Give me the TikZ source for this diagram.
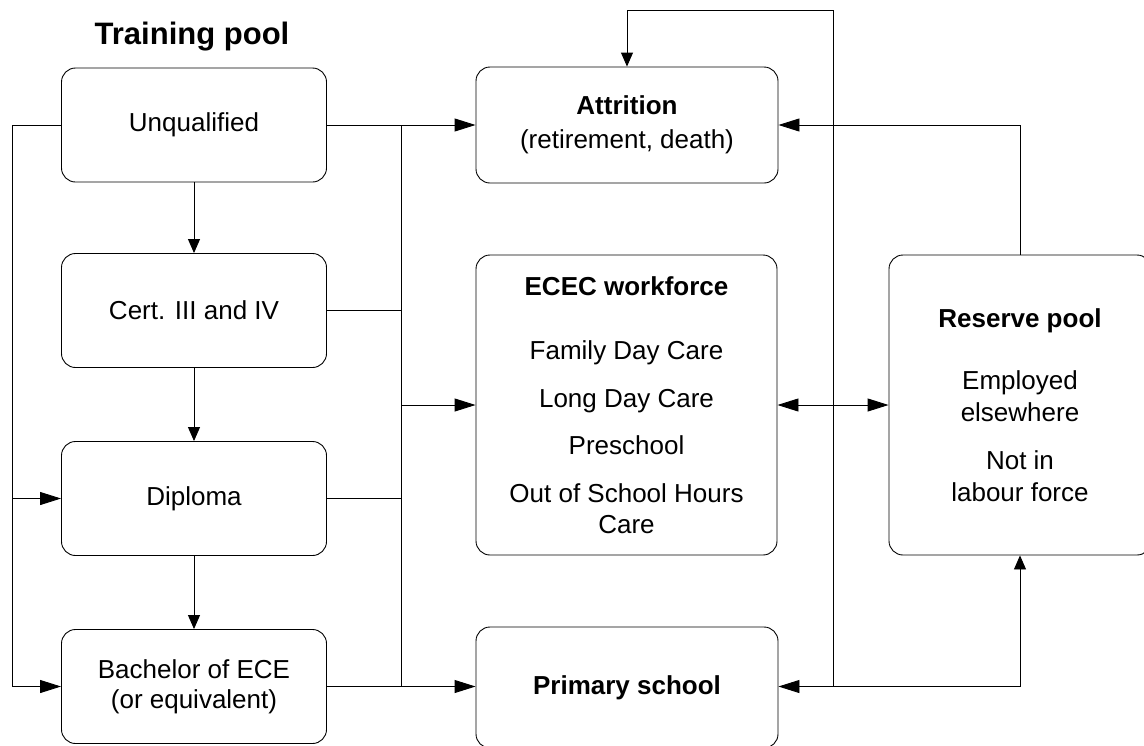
\documentclass[tikz,border=0pt]{standalone}
\usepackage{fontspec}
\setmainfont{Liberation Sans}
\usetikzlibrary{arrows.meta}
\begin{document}
\begin{tikzpicture}[x=1pt,y=-1pt,
  box/.style={draw, rounded corners=14pt, line width=0.9pt, align=center,
    inner sep=0pt, font=\fontsize{26}{31}\selectfont},
  trainbox/.style={box, minimum width=265pt, minimum height=114pt},
  link/.style={line width=0.9pt},
  harr/.style={link, -{Triangle[length=21pt,width=13pt]}},
  varr/.style={link, -{Triangle[length=14pt,width=12pt]}},
  dharr/.style={link, {Triangle[length=21pt,width=13pt]}-{Triangle[length=21pt,width=13pt]}}
]
\useasboundingbox (0,0) rectangle (1144,745);

% Training pool column
\node[font=\bfseries\fontsize{31}{36}\selectfont] (title) at (192,37) {Training pool};
\node[trainbox] (unq)  at (194,125)   {Unqualified};
\node[trainbox] (cert) at (194,310.5) {Cert. III and IV};
\node[trainbox] (dip)  at (194,498.5) {Diploma};
\node[trainbox] (bach) at (194,686.5) {Bachelor of ECE\\[-1pt](or equivalent)};

% Destinations
\node[box, minimum width=302pt, minimum height=116pt] (attr) at (627,125)
  {\textbf{Attrition}\\[3pt](retirement, death)};
\node[box, minimum width=301pt, minimum height=300pt] (ecec) at (626.5,405)
  {\textbf{ECEC workforce}\\[33pt]Family Day Care\\[17pt]Long Day Care\\[16pt]Preschool\\[17pt]Out of School Hours\\Care};
\node[box, minimum width=302pt, minimum height=121pt] (prim) at (627,687.5)
  {\textbf{Primary school}};
\node[box, minimum width=262pt, minimum height=300pt] (res) at (1020,405)
  {\textbf{Reserve pool}\\[31pt]Employed\\[1pt]elsewhere\\[17pt]Not in\\[1pt]labour force};

% Progression within the training pool
\draw[varr] (unq.south) -- (cert.north);
\draw[varr] (cert.south) -- (dip.north);
\draw[varr] (dip.south) -- (bach.north);

% Left bus: direct entry to higher qualifications
\coordinate (lt) at (12,125);
\coordinate (lm) at (12,498.5);
\coordinate (lb) at (12,686.5);
\draw[harr] (unq.west) -- (lt) -- (lb) -- (bach.west);
\draw[harr] (lm) -- (dip.west);

% Middle bus: training pool to destinations
\coordinate (mt) at (401,125);
\coordinate (mc) at (401,310.5);
\coordinate (me) at (401,405);
\coordinate (md) at (401,498.5);
\coordinate (mb) at (401,686.5);
\draw[harr] (unq.east) -- (attr.west);
\draw[link] (mt) -- (mb);
\draw[link] (cert.east) -- (mc);
\draw[link] (dip.east) -- (md);
\draw[harr] (me) -- (ecec.west);
\draw[harr] (bach.east) -- (bach.east -| prim.west);

% Workforce <-> reserve pool
\draw[dharr] (ecec.east) -- (res.west);

% Right bus: primary school, reserve pool, attrition
\coordinate (rb) at (833,686.5);
\coordinate (rt) at (833,10);
\coordinate (rr) at (1020,686.5);
\draw[varr] (rb) -- (rt) -- (attr.north |- rt) -- (attr.north);
\draw[harr] (rb) -- (rb -| prim.east);
\draw[varr] (rb) -- (rr) -- (res.south);
\draw[harr] (res.north) -- (res.north |- attr.east) -- (attr.east);
\end{tikzpicture}
\end{document}
